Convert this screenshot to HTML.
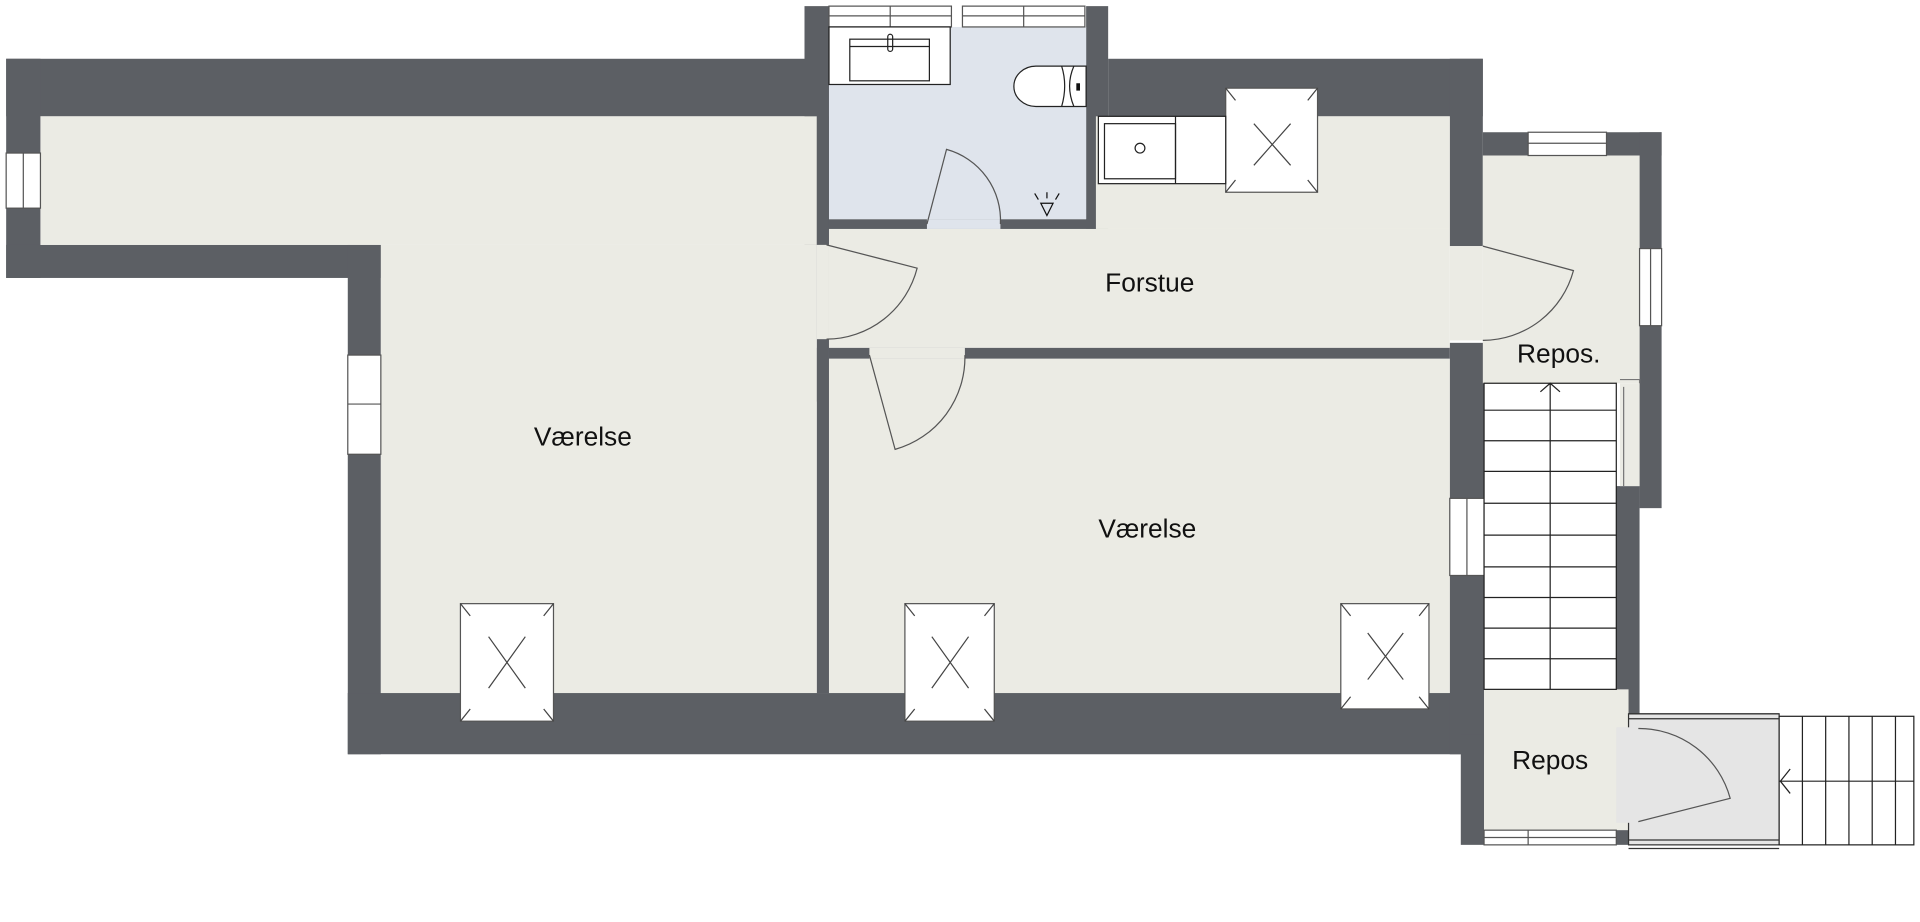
<!DOCTYPE html>
<html><head><meta charset="utf-8"><style>
html,body{margin:0;padding:0;background:#fff;width:1920px;height:922px;overflow:hidden}
svg{display:block}
text{font-family:"Liberation Sans",sans-serif;font-size:21.5px;fill:#111;text-anchor:middle}
</style></head><body>
<svg width="1920" height="922" viewBox="0 0 1568 753" xmlns="http://www.w3.org/2000/svg">
<g fill="#5c5f64">
<rect x="5" y="48" width="662" height="47"/>
<rect x="5" y="48" width="28" height="179"/>
<rect x="5" y="200" width="306" height="27"/>
<rect x="284" y="200" width="27" height="416"/>
<rect x="284" y="566" width="928" height="50"/>
<rect x="657" y="5" width="20" height="195"/>
<rect x="667" y="95" width="10" height="471"/>
<rect x="887" y="5" width="18" height="182"/>
<rect x="677" y="179" width="218" height="8"/>
<rect x="905" y="48" width="306" height="47"/>
<rect x="1184" y="48" width="27" height="153"/>
<rect x="1211" y="108" width="146" height="19"/>
<rect x="1339" y="108" width="18" height="307"/>
<rect x="1320" y="397" width="19" height="197"/>
<rect x="1320" y="672" width="19" height="18"/>
<rect x="1184" y="280" width="28" height="336"/>
<rect x="1193" y="600" width="19" height="90"/>
<rect x="677" y="284" width="507" height="9"/>
<rect x="629" y="284" width="38" height="44"/>
</g>
<g fill="#ebebe4">
<rect x="33" y="95" width="634" height="105"/>
<rect x="311" y="200" width="356" height="366"/>
<rect x="677" y="187" width="507" height="97"/>
<rect x="895" y="95" width="289" height="92"/>
<rect x="677" y="293" width="507" height="273"/>
<rect x="1211" y="127" width="128" height="186"/>
<rect x="1323" y="313" width="16" height="84"/>
<rect x="1212" y="563" width="118" height="115"/>
<rect x="667" y="200" width="10" height="77"/>
<rect x="1184" y="201" width="27" height="77"/>
<rect x="710" y="284" width="78" height="9"/>
</g>
<rect x="677" y="22" width="210" height="157" fill="#dfe4ec"/>
<rect x="757" y="179" width="60" height="8" fill="#dfe4ec"/>
<rect x="1330" y="583" width="123" height="107" fill="#e5e5e5" stroke="#333" stroke-width="1"/>
<rect x="1320" y="594" width="19" height="78" fill="#e5e5e5"/>
<g fill="#fff" stroke="#555" stroke-width="1">
<rect x="5" y="125" width="28" height="45"/><line x1="19" y1="125" x2="19" y2="170"/>
<rect x="284" y="290" width="27" height="81"/><line x1="284" y1="330" x2="311" y2="330"/>
<rect x="677" y="5" width="100" height="17"/><line x1="677" y1="13" x2="777" y2="13"/><line x1="727" y1="5" x2="727" y2="22"/>
<rect x="786" y="5" width="100" height="17"/><line x1="786" y1="13" x2="886" y2="13"/><line x1="836" y1="5" x2="836" y2="22"/>
<rect x="1248" y="108" width="64" height="19"/><line x1="1248" y1="117" x2="1312" y2="117"/>
<rect x="1339" y="203" width="18" height="63"/><line x1="1348" y1="203" x2="1348" y2="266"/>
<rect x="1184" y="407" width="28" height="63"/><line x1="1198" y1="407" x2="1198" y2="470"/>
<rect x="1212" y="678" width="108" height="12"/><line x1="1212" y1="684" x2="1320" y2="684"/><line x1="1248" y1="678" x2="1248" y2="690"/>
<rect x="376" y="493" width="76" height="96"/>
<rect x="739" y="493" width="73" height="96"/>
<rect x="1095" y="493" width="72" height="86"/>
<rect x="1001" y="72" width="75" height="85"/>
<rect x="897" y="95" width="104" height="55" stroke="#222"/>
<rect x="902" y="101" width="58" height="45" stroke="#222"/>
<rect x="677" y="22" width="99" height="47" stroke="#222"/>
<rect x="694" y="32" width="65" height="34" stroke="#222"/>
<rect x="1212" y="313" width="108" height="250" stroke="#222"/>
<rect x="1453" y="585" width="110" height="105" stroke="#222"/>
</g>
<g stroke="#444" stroke-width="1" fill="none">
<path d="M399 520 L429 562 M429 520 L399 562"/>
<path d="M761 520 L791 562 M791 520 L761 562"/>
<path d="M1117 517 L1146 555 M1146 517 L1117 555"/>
<path d="M1024 101 L1054 135 M1054 101 L1024 135"/>
<path d="M376 493 l8 10 M452 493 l-8 10 M376 589 l8 -10 M452 589 l-8 -10"/>
<path d="M739 493 l8 10 M812 493 l-8 10 M739 589 l8 -10 M812 589 l-8 -10"/>
<path d="M1095 493 l8 10 M1167 493 l-8 10 M1095 579 l8 -10 M1167 579 l-8 -10"/>
<path d="M1001 72 l8 10 M1076 72 l-8 10 M1001 157 l8 -10 M1076 157 l-8 -10"/>
<line x1="960" y1="95" x2="960" y2="150" stroke="#222"/>
<circle cx="931" cy="121" r="4" stroke="#222"/>
<rect x="725" y="28" width="4" height="14" rx="2" stroke="#222"/>
<line x1="694" y1="38" x2="759" y2="38" stroke="#222"/>
<path d="M887 54 H846 A18 16.5 0 0 0 846 87 H887 Z" fill="#fff" stroke="#222"/>
<path d="M867 54 Q872 70 867 87 M877 54 Q870 70 877 87" stroke="#222"/>
<rect x="879" y="68" width="3" height="6" fill="#111" stroke="none"/>
<path d="M850 166 L860 166 L855 176 Z M855 157 v5 M845 158 l3 5 M865 158 l-3 5" stroke="#111"/>
<path d="M1266 313 V563 M1258 320 L1266 313 L1274 320" stroke="#222"/>
<path d="M1212 335 H1320 M1212 360 H1320 M1212 385 H1320 M1212 411 H1320 M1212 437 H1320 M1212 463 H1320 M1212 488 H1320 M1212 513 H1320 M1212 538 H1320" stroke="#222"/>
<path d="M1472 585 V690 M1491 585 V690 M1510 585 V690 M1529 585 V690 M1548 585 V690 M1453 638 H1563 M1462 628 L1454 638 L1462 648" stroke="#222"/>
<path d="M1330 583 H1453 M1330 587 H1453 M1330 686 H1453 M1330 693 H1453" stroke="#333"/>
<path d="M1323 310 H1339 V313 M1326 316 V397" stroke="#777"/>
<path d="M675 200 L749 219 A77 77 0 0 1 675 277" stroke="#555"/>
<path d="M1211 201 L1285 221 A77 77 0 0 1 1211 278" stroke="#555"/>
<path d="M710 290 L731 367 A78 78 0 0 0 788 290" stroke="#555"/>
<path d="M757 183 L773 122 A60 60 0 0 1 817 183" stroke="#555"/>
<path d="M1338 671 L1413 652 A77 77 0 0 0 1338 595" stroke="#555"/>
</g>
<text x="939" y="238">Forstue</text>
<text x="476" y="364">Værelse</text>
<text x="937" y="439">Værelse</text>
<text x="1273" y="296">Repos.</text>
<text x="1266" y="628">Repos</text>
</svg>
</body></html>
